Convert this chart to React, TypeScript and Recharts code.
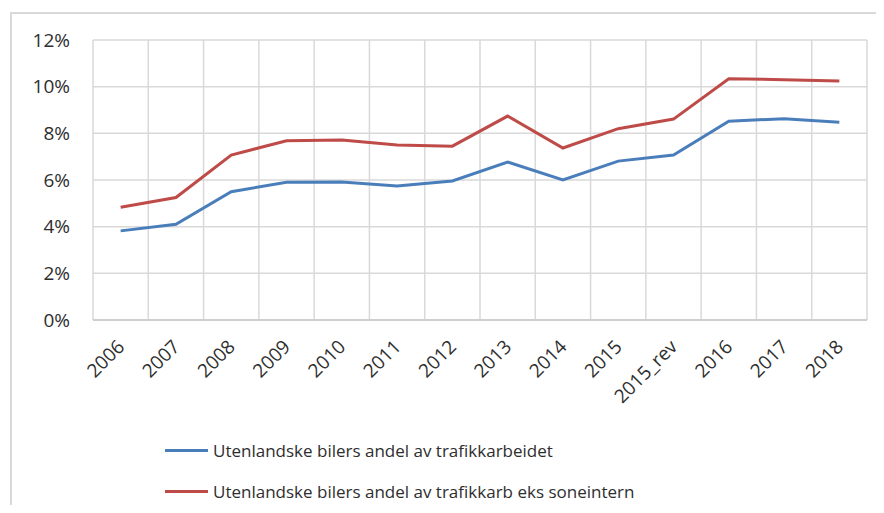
import React from 'react';
import { LineChart, Line, XAxis, YAxis, CartesianGrid, Legend } from 'recharts';

const years = ['2006', '2007', '2008', '2009', '2010', '2011', '2012', '2013', '2014', '2015', '2015_rev', '2016', '2017', '2018'];
const andelTrafikkarbeid = [3.82, 4.1, 5.5, 5.9, 5.91, 5.74, 5.96, 6.77, 6.0, 6.81, 7.07, 8.52, 8.63, 8.48];
const andelEksSoneintern = [4.83, 5.25, 7.07, 7.68, 7.71, 7.5, 7.45, 8.74, 7.37, 8.2, 8.61, 10.34, 10.3, 10.24];
const yTicks = [0, 2, 4, 6, 8, 10, 12];

const seriesNames = [
    'Utenlandske bilers andel av trafikkarbeidet',
    'Utenlandske bilers andel av trafikkarb eks soneintern',
];
const BLUE = '#4a7ebb';
const RED = '#be4b48';
const GRID = '#d9d9d9';
const TEXT = '#2e2e2e';
const FONT = '"Open Sans", sans-serif';

const PLOT_WIDTH = 884 - 93 - 17;
const HALF_BAND = PLOT_WIDTH / years.length / 2;

const data = years.map((year, i) => ({
    year,
    blue: andelTrafikkarbeid[i],
    red: andelEksSoneintern[i],
}));

const YearTick = (props: any) => {
    const { x, y, payload } = props;
    return (
        <text
            transform={`translate(${x + 5},${y + 28}) rotate(-45)`}
            textAnchor="end"
            fill={TEXT}
            fontSize={19}
            fontFamily={FONT}
        >
            {payload.value}
        </text>
    );
};

const LegendBox = () => (
    <div style={{ fontFamily: FONT, fontSize: 17, color: TEXT }}>
        {seriesNames.map((name, i) => (
            <div key={name} style={{ display: 'flex', alignItems: 'center', height: 41 }}>
                <span style={{ display: 'inline-block', width: 43, height: 3, background: i === 0 ? BLUE : RED, marginRight: 5 }} />
                <span>{name}</span>
            </div>
        ))}
    </div>
);

// vertical grid lines sit on the category boundaries, not on the centers
const boundaryLines = ({ offset }: any) =>
    years.map((_, i) => offset.left + (i * offset.width) / years.length).concat(offset.left + offset.width);

export default function App() {
    return (
        <div style={{ position: 'relative', width: 884, height: 513, margin: -8, overflow: 'hidden', background: '#fff' }}>
            <div
                style={{
                    position: 'absolute',
                    left: 10,
                    top: 12,
                    width: 900,
                    height: 520,
                    borderTop: `2px solid ${GRID}`,
                    borderLeft: `2px solid ${GRID}`,
                }}
            />
            <LineChart
                width={884}
                height={513}
                data={data}
                margin={{ top: 40, right: 17, left: 0, bottom: 0 }}
                style={{ position: 'absolute', left: 0, top: 0 }}
            >
                <CartesianGrid stroke={GRID} strokeWidth={1.5} verticalCoordinatesGenerator={boundaryLines} />
                <XAxis
                    dataKey="year"
                    height={193}
                    interval={0}
                    padding={{ left: HALF_BAND, right: HALF_BAND }}
                    tickLine={false}
                    tickSize={0}
                    tickMargin={0}
                    axisLine={{ stroke: '#cfcfcf', strokeWidth: 2 }}
                    tick={<YearTick />}
                />
                <YAxis
                    width={93}
                    domain={[0, 12]}
                    ticks={yTicks}
                    axisLine={false}
                    tickLine={false}
                    tickSize={0}
                    tickMargin={23}
                    tickFormatter={(v: number) => `${v}%`}
                    tick={{ fill: TEXT, fontSize: 19, fontFamily: FONT }}
                />
                <Legend
                    layout="vertical"
                    align="center"
                    verticalAlign="middle"
                    content={<LegendBox />}
                    wrapperStyle={{ left: 165, top: 430, width: 650 }}
                />
                <Line type="linear" dataKey="blue" name={seriesNames[0]} stroke={BLUE} strokeWidth={3} dot={false} isAnimationActive={false} />
                <Line type="linear" dataKey="red" name={seriesNames[1]} stroke={RED} strokeWidth={3} dot={false} isAnimationActive={false} />
            </LineChart>
        </div>
    );
}
